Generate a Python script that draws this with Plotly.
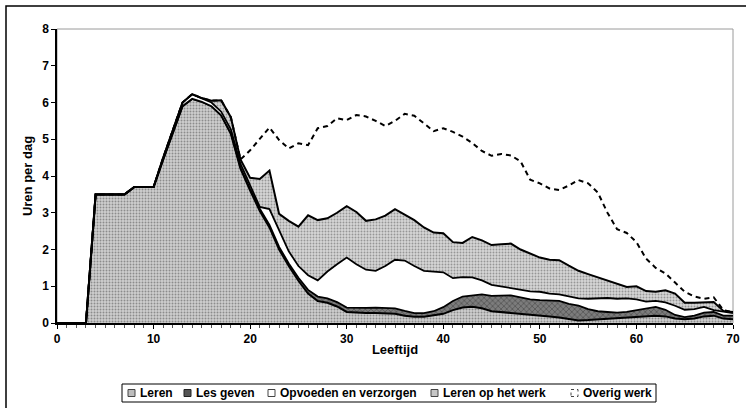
import plotly.graph_objects as go

ages = list(range(0, 71))

leren = [0, 0, 0, 0, 3.5, 3.5, 3.5, 3.5, 3.7, 3.7, 3.7, 4.45, 5.2, 5.9, 6.1, 6.02, 5.9, 5.65, 5.15, 4.2,
         3.6, 3.05, 2.6, 2.0, 1.55, 1.15, 0.8, 0.6, 0.55, 0.45, 0.3, 0.28, 0.27, 0.27, 0.27, 0.25, 0.2, 0.17, 0.17, 0.2,
         0.25, 0.35, 0.42, 0.44, 0.4, 0.32, 0.3, 0.28, 0.25, 0.22, 0.2, 0.18, 0.15, 0.1, 0.07, 0.08, 0.1, 0.12, 0.13, 0.15,
         0.16, 0.18, 0.2, 0.18, 0.12, 0.1, 0.12, 0.18, 0.2, 0.12, 0.1]

les_geven = [0, 0, 0, 0, 0, 0, 0, 0, 0, 0, 0, 0, 0, 0, 0, 0, 0, 0, 0.02, 0.03,
             0.05, 0.06, 0.07, 0.07, 0.07, 0.08, 0.1, 0.12, 0.12, 0.12, 0.12, 0.13, 0.14, 0.15, 0.15, 0.15, 0.13, 0.1, 0.1, 0.12,
             0.18, 0.25, 0.3, 0.32, 0.38, 0.42, 0.45, 0.47, 0.45, 0.42, 0.42, 0.42, 0.45, 0.42, 0.4, 0.3, 0.22, 0.18, 0.15, 0.15,
             0.18, 0.22, 0.24, 0.18, 0.1, 0.06, 0.08, 0.1, 0.1, 0.08, 0.1]

opvoeden = [0, 0, 0, 0, 0, 0, 0, 0, 0, 0, 0, 0.05, 0.08, 0.1, 0.12, 0.1, 0.1, 0.1, 0.1, 0.1,
            0.1, 0.05, 0.43, 0.43, 0.33, 0.32, 0.4, 0.44, 0.73, 1.03, 1.36, 1.19, 1.04, 1.0, 1.13, 1.32, 1.37, 1.28, 1.15, 1.08,
            0.95, 0.62, 0.53, 0.48, 0.38, 0.3, 0.25, 0.2, 0.2, 0.22, 0.23, 0.2, 0.18, 0.2, 0.2, 0.28, 0.35, 0.38, 0.38, 0.37,
            0.3, 0.18, 0.16, 0.2, 0.25, 0.2, 0.18, 0.16, 0.05, 0.1, 0.07]

leren_werk = [0, 0, 0, 0, 0, 0, 0, 0, 0, 0, 0, 0, 0, 0, 0.01, 0, 0.05, 0.31, 0.33, 0.12,
              0.2, 0.76, 1.05, 0.47, 0.83, 1.07, 1.63, 1.64, 1.45, 1.4, 1.4, 1.42, 1.33, 1.4, 1.37, 1.38, 1.25, 1.25, 1.18, 1.06,
              1.06, 0.98, 0.93, 1.1, 1.09, 1.08, 1.14, 1.21, 1.1, 1.02, 0.93, 0.92, 0.93, 0.84, 0.75, 0.67, 0.57, 0.48, 0.42, 0.31,
              0.36, 0.29, 0.25, 0.33, 0.33, 0.19, 0.17, 0.11, 0.22, 0.03, 0.03]

overig_werk = [0, 0, 0, 0, 0, 0, 0, 0, 0, 0, 0, 0, 0, 0, 0, 0, 0, 0, 0, 0,
               0.75, 1.08, 1.17, 2.01, 1.97, 2.27, 1.91, 2.5, 2.51, 2.57, 2.34, 2.64, 2.84, 2.68, 2.44, 2.4, 2.74, 2.84, 2.82, 2.76,
               2.86, 3.0, 2.89, 2.56, 2.43, 2.43, 2.46, 2.4, 2.4, 2.02, 2.02, 1.94, 1.91, 2.18, 2.47, 2.47, 2.31, 1.84, 1.47, 1.47,
               1.2, 0.88, 0.65, 0.46, 0.3, 0.3, 0.17, 0.11, 0.13, 0.02, 0]

series_names = ["Leren", "Les geven", "Opvoeden en verzorgen", "Leren op het werk", "Overig werk"]

x_ticks = [0, 10, 20, 30, 40, 50, 60, 70]
y_ticks = [0, 1, 2, 3, 4, 5, 6, 7, 8]

FONT = "Liberation Sans"
W, H = 746, 408
ML, MR, MT, MB = 57, 13, 29, 85
PW, PH = W - ML - MR, H - MT - MB


def px(xp):
    return (xp - ML) / PW


def py(yp):
    return (H - MB - yp) / PH


fig = go.Figure()

fig.add_trace(go.Scatter(
    x=ages, y=leren, name=series_names[0], stackgroup="one", mode="lines",
    line=dict(color="black", width=2),
    fillcolor="#c4c4c4",
    fillpattern=dict(shape=".", bgcolor="#cfcfcf", fgcolor="#4a4a4a", size=3, solidity=0.35),
))
fig.add_trace(go.Scatter(
    x=ages, y=les_geven, name=series_names[1], stackgroup="one", mode="lines",
    line=dict(color="black", width=1.8),
    fillcolor="#6a6a6a",
    fillpattern=dict(shape="x", bgcolor="#7c7c7c", fgcolor="#2a2a2a", size=4, solidity=0.35),
))
fig.add_trace(go.Scatter(
    x=ages, y=opvoeden, name=series_names[2], stackgroup="one", mode="lines",
    line=dict(color="black", width=1.8),
    fillcolor="white",
))
fig.add_trace(go.Scatter(
    x=ages, y=leren_werk, name=series_names[3], stackgroup="one", mode="lines",
    line=dict(color="black", width=2),
    fillcolor="#cacaca",
    fillpattern=dict(shape=".", bgcolor="#d6d6d6", fgcolor="#555555", size=3, solidity=0.32),
))
fig.add_trace(go.Scatter(
    x=ages, y=overig_werk, name=series_names[4], stackgroup="one", mode="lines",
    line=dict(color="black", width=2, dash="5px,4px"),
    fillcolor="rgba(0,0,0,0)",
))

# plot-area border (grey) and outer chart frame
fig.add_shape(type="rect", xref="paper", yref="paper", x0=0, x1=1, y0=0, y1=1,
              line=dict(color="#9a9a9a", width=1), layer="below")
fig.add_shape(type="rect", xref="paper", yref="paper", x0=px(6), x1=px(780), y0=py(440), y1=py(6),
              line=dict(color="black", width=1.5))

# legend box drawn like the original (small square keys)
fig.add_shape(type="rect", xref="paper", yref="paper", x0=px(122), x1=px(656), y0=py(402), y1=py(384),
              line=dict(color="black", width=1), fillcolor="white")
key_x = [128, 184, 268, 431, 571]
text_x = [138, 194, 278, 441, 581]
key_fill = ["#bdbdbd", "#555555", "white", "#c6c6c6", "white"]
key_line = [dict(color="#444444", width=1), dict(color="#222222", width=1), dict(color="#444444", width=1),
            dict(color="#444444", width=1), dict(color="#444444", width=1, dash="dot")]
for i, name in enumerate(series_names):
    fig.add_shape(type="rect", xref="paper", yref="paper",
                  x0=px(key_x[i]), x1=px(key_x[i] + 7), y0=py(396.5), y1=py(389.5),
                  line=key_line[i], fillcolor=key_fill[i])
    fig.add_annotation(text=name, xref="paper", yref="paper", x=px(text_x[i]), y=py(393),
                       xanchor="left", yanchor="middle", showarrow=False,
                       font=dict(family=FONT, size=12, color="black", weight="bold"))

fig.update_layout(
    width=W, height=H,
    margin=dict(l=ML, r=MR, t=MT, b=MB, autoexpand=False),
    paper_bgcolor="white", plot_bgcolor="white",
    font=dict(family=FONT, size=12, color="black"),
    showlegend=False,
    xaxis=dict(
        range=[0, 70], tickmode="array", tickvals=x_ticks, ticktext=[str(v) for v in x_ticks],
        showgrid=False, zeroline=False, showline=True, linecolor="black", linewidth=1.5,
        ticks="outside", ticklen=4, tickcolor="black", tickwidth=1, automargin=False,
        minor=dict(dtick=1, ticks="outside", ticklen=3, tickcolor="#555555"),
        tickfont=dict(family=FONT, size=12, weight="bold"),
        title=dict(text="Leeftijd", font=dict(family=FONT, size=13, weight="bold"), standoff=0),
    ),
    yaxis=dict(
        range=[0, 8], tickmode="array", tickvals=y_ticks, ticktext=[str(v) for v in y_ticks],
        showgrid=False, zeroline=False, showline=True, linecolor="black", linewidth=1.5,
        ticks="outside", ticklen=4, tickcolor="black", tickwidth=1, automargin=False,
        tickfont=dict(family=FONT, size=12, weight="bold"),
        title=dict(text="Uren per dag", font=dict(family=FONT, size=13, weight="bold"), standoff=7),
    ),
)

fig.write_html(
    "out.html",
    config={"displayModeBar": False},
    post_script="document.body.style.margin='0';document.body.style.overflow='hidden';",
)
